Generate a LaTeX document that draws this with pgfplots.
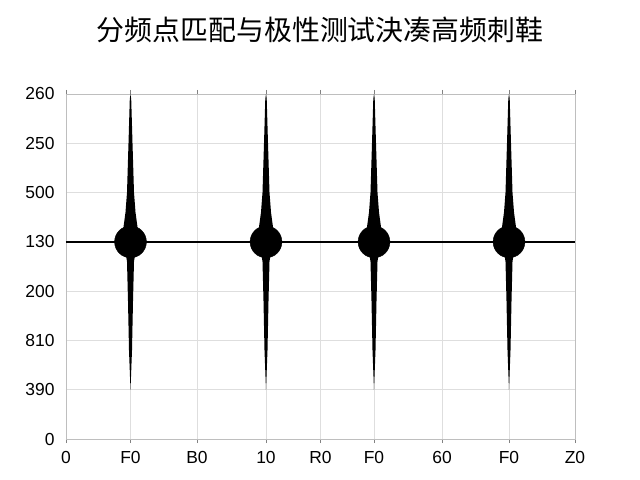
\documentclass[border=0pt]{standalone}
\usepackage{pgfplots}
\pgfplotsset{compat=1.18}
\usepackage{fontspec}
\setmainfont{Liberation Sans}
\newfontfamily\cjk{Noto Sans CJK SC}
\definecolor{gridc}{RGB}{222,222,222}
\definecolor{spinec}{RGB}{190,190,190}
\definecolor{botc}{RGB}{130,130,130}
\begin{document}
\begin{tikzpicture}
\begin{axis}[
  at={(0,0)}, anchor=south west,
  scale only axis, width=509bp, height=345bp,
  xmin=0, xmax=509, ymin=0, ymax=7,
  xtick={0,64.5,131,200,254.5,308,376,443,509},
  xticklabels={0,F0,B0,10,R0,F0,60,F0,Z0},
  ytick={0,1,2,3,4,5,6,7},
  yticklabels={0,390,810,200,130,500,250,260},
  grid=major,
  major grid style={gridc, line width=0.8bp},
  axis line style={spinec, line width=0.8bp},
  x axis line style={botc},
  xtick align=outside,
  major tick length=4bp,
  xtick style={botc, line width=0.8bp},
  ytick style={draw=none},
  tick label style={font=\fontsize{17.5}{19}\selectfont},
  xticklabel style={yshift=-5bp},
  yticklabel style={xshift=-8bp},
  /pgf/number format/assume math mode=true,
  clip=false,
]
\addplot[line width=2.5bp, black] coordinates {(0,4) (509,4)};
% spikes
\addplot[fill=black, draw=none] coordinates {
(64.5,7) (65.2,6.9) (66.5,6) (68,5) (69.5,4.6) (71.5,4.3) (71.5,4) (69.5,3.8) (68,3.6) (67,2.8) (66,1.8) (64.5,1)
(63,1.8) (62,2.8) (61,3.6) (59.5,3.8) (57.5,4) (57.5,4.3) (59.5,4.6) (61,5) (62.5,6) (63.8,6.9) } -- cycle;
\addplot[fill=black, draw=none] coordinates {
(200,7) (200.7,6.9) (202,6) (203.5,5) (205,4.6) (207,4.3) (207,4) (205,3.8) (203.5,3.6) (202.5,2.8) (201.5,1.8) (200,1)
(198.5,1.8) (197.5,2.8) (196.5,3.6) (195,3.8) (193,4) (193,4.3) (195,4.6) (196.5,5) (198,6) (199.3,6.9) } -- cycle;
\addplot[fill=black, draw=none] coordinates {
(308,7) (308.7,6.9) (310,6) (311.5,5) (313,4.6) (315,4.3) (315,4) (313,3.8) (311.5,3.6) (310.5,2.8) (309.5,1.8) (308,1)
(306.5,1.8) (305.5,2.8) (304.5,3.6) (303,3.8) (301,4) (301,4.3) (303,4.6) (304.5,5) (306,6) (307.3,6.9) } -- cycle;
\addplot[fill=black, draw=none] coordinates {
(443,7) (443.7,6.9) (445,6) (446.5,5) (448,4.6) (450,4.3) (450,4) (448,3.8) (446.5,3.6) (445.5,2.8) (444.5,1.8) (443,1)
(441.5,1.8) (440.5,2.8) (439.5,3.6) (438,3.8) (436,4) (436,4.3) (438,4.6) (439.5,5) (441,6) (442.3,6.9) } -- cycle;
\addplot[only marks, mark=*, mark size=16, black] coordinates {(64.5,4) (200,4) (308,4) (443,4)};
\end{axis}
\path (-66bp,-41bp) rectangle (574bp,439bp);
\node at (254bp,409bp) {\cjk\fontsize{28}{30}\selectfont 分频点匹配与极性测试決凑高频刺鞋};
\end{tikzpicture}
\end{document}
